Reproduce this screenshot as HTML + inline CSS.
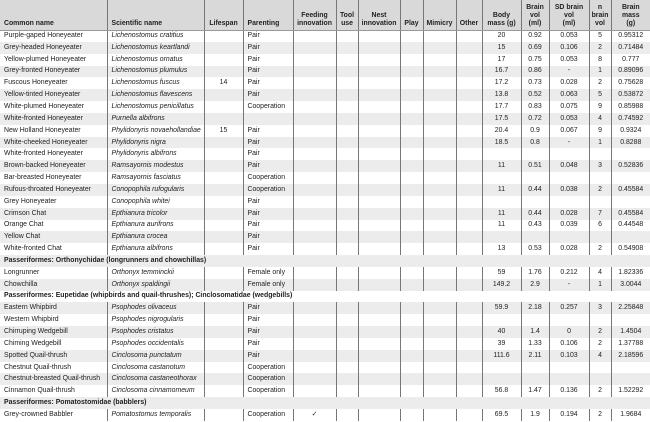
<!DOCTYPE html>
<html><head><meta charset="utf-8">
<style>
html,body{margin:0;padding:0;background:#fff;}
body{width:650px;height:422px;overflow:hidden;font-family:"Liberation Sans",sans-serif;color:#222;}
table{position:absolute;left:0;top:0;width:650px;border-collapse:collapse;table-layout:fixed;font-size:6.9px;}
td,th{padding:0 0 0 4px;white-space:nowrap;overflow:hidden;border-left:1.5px solid #777;line-height:10px;}
td:first-child,th:first-child{border-left:none;}
thead tr{height:30px;background:#d9d9d9;}
th{font-weight:bold;vertical-align:bottom;padding-bottom:2px;text-align:center;padding-left:0;line-height:8px;border-bottom:1px solid #999;}
th.l{text-align:left;padding-left:4px;}
tbody tr{height:11.85px;}
tbody tr:nth-child(even){background:#ececec;}
td.c{text-align:center;padding-left:0;}
td i{font-style:italic;}
td.s{font-weight:bold;border-left:none;}
</style></head><body>
<table>
<colgroup><col style="width:107px"><col style="width:97px"><col style="width:39px"><col style="width:50px"><col style="width:43px"><col style="width:22px"><col style="width:42px"><col style="width:23px"><col style="width:33px"><col style="width:26px"><col style="width:39px"><col style="width:28px"><col style="width:40px"><col style="width:22px"><col style="width:39px"></colgroup>
<thead><tr><th class="l">Common name</th><th class="l">Scientific name</th><th>Lifespan</th><th class="l">Parenting</th><th>Feeding<br>innovation</th><th>Tool<br>use</th><th>Nest<br>innovation</th><th>Play</th><th>Mimicry</th><th>Other</th><th>Body<br>mass (g)</th><th>Brain<br>vol<br>(ml)</th><th>SD brain<br>vol<br>(ml)</th><th>n<br>brain<br>vol</th><th>Brain<br>mass<br>(g)</th></tr></thead>
<tbody>
<tr><td>Purple-gaped Honeyeater</td><td><i>Lichenostomus cratitius</i></td><td></td><td>Pair</td><td></td><td></td><td></td><td></td><td></td><td></td><td class="c">20</td><td class="c">0.92</td><td class="c">0.053</td><td class="c">5</td><td class="c">0.95312</td></tr>
<tr><td>Grey-headed Honeyeater</td><td><i>Lichenostomus keartlandi</i></td><td></td><td>Pair</td><td></td><td></td><td></td><td></td><td></td><td></td><td class="c">15</td><td class="c">0.69</td><td class="c">0.106</td><td class="c">2</td><td class="c">0.71484</td></tr>
<tr><td>Yellow-plumed Honeyeater</td><td><i>Lichenostomus ornatus</i></td><td></td><td>Pair</td><td></td><td></td><td></td><td></td><td></td><td></td><td class="c">17</td><td class="c">0.75</td><td class="c">0.053</td><td class="c">8</td><td class="c">0.777</td></tr>
<tr><td>Grey-fronted Honeyeater</td><td><i>Lichenostomus plumulus</i></td><td></td><td>Pair</td><td></td><td></td><td></td><td></td><td></td><td></td><td class="c">16.7</td><td class="c">0.86</td><td class="c">-</td><td class="c">1</td><td class="c">0.89096</td></tr>
<tr><td>Fuscous Honeyeater</td><td><i>Lichenostomus fuscus</i></td><td class="c">14</td><td>Pair</td><td></td><td></td><td></td><td></td><td></td><td></td><td class="c">17.2</td><td class="c">0.73</td><td class="c">0.028</td><td class="c">2</td><td class="c">0.75628</td></tr>
<tr><td>Yellow-tinted Honeyeater</td><td><i>Lichenostomus flavescens</i></td><td></td><td>Pair</td><td></td><td></td><td></td><td></td><td></td><td></td><td class="c">13.8</td><td class="c">0.52</td><td class="c">0.063</td><td class="c">5</td><td class="c">0.53872</td></tr>
<tr><td>White-plumed Honeyeater</td><td><i>Lichenostomus penicillatus</i></td><td></td><td>Cooperation</td><td></td><td></td><td></td><td></td><td></td><td></td><td class="c">17.7</td><td class="c">0.83</td><td class="c">0.075</td><td class="c">9</td><td class="c">0.85988</td></tr>
<tr><td>White-fronted Honeyeater</td><td><i>Purnella albifrons</i></td><td></td><td></td><td></td><td></td><td></td><td></td><td></td><td></td><td class="c">17.5</td><td class="c">0.72</td><td class="c">0.053</td><td class="c">4</td><td class="c">0.74592</td></tr>
<tr><td>New Holland Honeyeater</td><td><i>Phylidonyris novaehollandiae</i></td><td class="c">15</td><td>Pair</td><td></td><td></td><td></td><td></td><td></td><td></td><td class="c">20.4</td><td class="c">0.9</td><td class="c">0.067</td><td class="c">9</td><td class="c">0.9324</td></tr>
<tr><td>White-cheeked Honeyeater</td><td><i>Phylidonyris nigra</i></td><td></td><td>Pair</td><td></td><td></td><td></td><td></td><td></td><td></td><td class="c">18.5</td><td class="c">0.8</td><td class="c">-</td><td class="c">1</td><td class="c">0.8288</td></tr>
<tr><td>White-fronted Honeyeater</td><td><i>Phylidonyris albifrons</i></td><td></td><td>Pair</td><td></td><td></td><td></td><td></td><td></td><td></td><td></td><td></td><td></td><td></td><td></td></tr>
<tr><td>Brown-backed Honeyeater</td><td><i>Ramsayornis modestus</i></td><td></td><td>Pair</td><td></td><td></td><td></td><td></td><td></td><td></td><td class="c">11</td><td class="c">0.51</td><td class="c">0.048</td><td class="c">3</td><td class="c">0.52836</td></tr>
<tr><td>Bar-breasted Honeyeater</td><td><i>Ramsayornis fasciatus</i></td><td></td><td>Cooperation</td><td></td><td></td><td></td><td></td><td></td><td></td><td></td><td></td><td></td><td></td><td></td></tr>
<tr><td>Rufous-throated Honeyeater</td><td><i>Conopophila rufogularis</i></td><td></td><td>Cooperation</td><td></td><td></td><td></td><td></td><td></td><td></td><td class="c">11</td><td class="c">0.44</td><td class="c">0.038</td><td class="c">2</td><td class="c">0.45584</td></tr>
<tr><td>Grey Honeyeater</td><td><i>Conopophila whitei</i></td><td></td><td>Pair</td><td></td><td></td><td></td><td></td><td></td><td></td><td></td><td></td><td></td><td></td><td></td></tr>
<tr><td>Crimson Chat</td><td><i>Epthianura tricolor</i></td><td></td><td>Pair</td><td></td><td></td><td></td><td></td><td></td><td></td><td class="c">11</td><td class="c">0.44</td><td class="c">0.028</td><td class="c">7</td><td class="c">0.45584</td></tr>
<tr><td>Orange Chat</td><td><i>Epthianura aurifrons</i></td><td></td><td>Pair</td><td></td><td></td><td></td><td></td><td></td><td></td><td class="c">11</td><td class="c">0.43</td><td class="c">0.039</td><td class="c">6</td><td class="c">0.44548</td></tr>
<tr><td>Yellow Chat</td><td><i>Epthianura crocea</i></td><td></td><td>Pair</td><td></td><td></td><td></td><td></td><td></td><td></td><td></td><td></td><td></td><td></td><td></td></tr>
<tr><td>White-fronted Chat</td><td><i>Epthianura albifrons</i></td><td></td><td>Pair</td><td></td><td></td><td></td><td></td><td></td><td></td><td class="c">13</td><td class="c">0.53</td><td class="c">0.028</td><td class="c">2</td><td class="c">0.54908</td></tr>
<tr><td class="s" colspan="15">Passeriformes: Orthonychidae (longrunners and chowchillas)</td></tr>
<tr><td>Longrunner</td><td><i>Orthonyx temminckii</i></td><td></td><td>Female only</td><td></td><td></td><td></td><td></td><td></td><td></td><td class="c">59</td><td class="c">1.76</td><td class="c">0.212</td><td class="c">4</td><td class="c">1.82336</td></tr>
<tr><td>Chowchilla</td><td><i>Orthonyx spaldingii</i></td><td></td><td>Female only</td><td></td><td></td><td></td><td></td><td></td><td></td><td class="c">149.2</td><td class="c">2.9</td><td class="c">-</td><td class="c">1</td><td class="c">3.0044</td></tr>
<tr><td class="s" colspan="15">Passeriformes: Eupetidae (whipbirds and quail-thrushes); Cinclosomatidae (wedgebills)</td></tr>
<tr><td>Eastern Whipbird</td><td><i>Psophodes olivaceus</i></td><td></td><td>Pair</td><td></td><td></td><td></td><td></td><td></td><td></td><td class="c">59.9</td><td class="c">2.18</td><td class="c">0.257</td><td class="c">3</td><td class="c">2.25848</td></tr>
<tr><td>Western Whipbird</td><td><i>Psophodes nigrogularis</i></td><td></td><td>Pair</td><td></td><td></td><td></td><td></td><td></td><td></td><td></td><td></td><td></td><td></td><td></td></tr>
<tr><td>Chirruping Wedgebill</td><td><i>Psophodes cristatus</i></td><td></td><td>Pair</td><td></td><td></td><td></td><td></td><td></td><td></td><td class="c">40</td><td class="c">1.4</td><td class="c">0</td><td class="c">2</td><td class="c">1.4504</td></tr>
<tr><td>Chiming Wedgebill</td><td><i>Psophodes occidentalis</i></td><td></td><td>Pair</td><td></td><td></td><td></td><td></td><td></td><td></td><td class="c">39</td><td class="c">1.33</td><td class="c">0.106</td><td class="c">2</td><td class="c">1.37788</td></tr>
<tr><td>Spotted Quail-thrush</td><td><i>Cinclosoma punctatum</i></td><td></td><td>Pair</td><td></td><td></td><td></td><td></td><td></td><td></td><td class="c">111.6</td><td class="c">2.11</td><td class="c">0.103</td><td class="c">4</td><td class="c">2.18596</td></tr>
<tr><td>Chestnut Quail-thrush</td><td><i>Cinclosoma castanotum</i></td><td></td><td>Cooperation</td><td></td><td></td><td></td><td></td><td></td><td></td><td></td><td></td><td></td><td></td><td></td></tr>
<tr><td>Chestnut-breasted Quail-thrush</td><td><i>Cinclosoma castaneothorax</i></td><td></td><td>Cooperation</td><td></td><td></td><td></td><td></td><td></td><td></td><td></td><td></td><td></td><td></td><td></td></tr>
<tr><td>Cinnamon Quail-thrush</td><td><i>Cinclosoma cinnamomeum</i></td><td></td><td>Cooperation</td><td></td><td></td><td></td><td></td><td></td><td></td><td class="c">56.8</td><td class="c">1.47</td><td class="c">0.136</td><td class="c">2</td><td class="c">1.52292</td></tr>
<tr><td class="s" colspan="15">Passeriformes: Pomatostomidae (babblers)</td></tr>
<tr><td>Grey-crowned Babbler</td><td><i>Pomatostomus temporalis</i></td><td></td><td>Cooperation</td><td class="c">✓</td><td></td><td></td><td></td><td></td><td></td><td class="c">69.5</td><td class="c">1.9</td><td class="c">0.194</td><td class="c">2</td><td class="c">1.9684</td></tr>
</tbody></table>
</body></html>
